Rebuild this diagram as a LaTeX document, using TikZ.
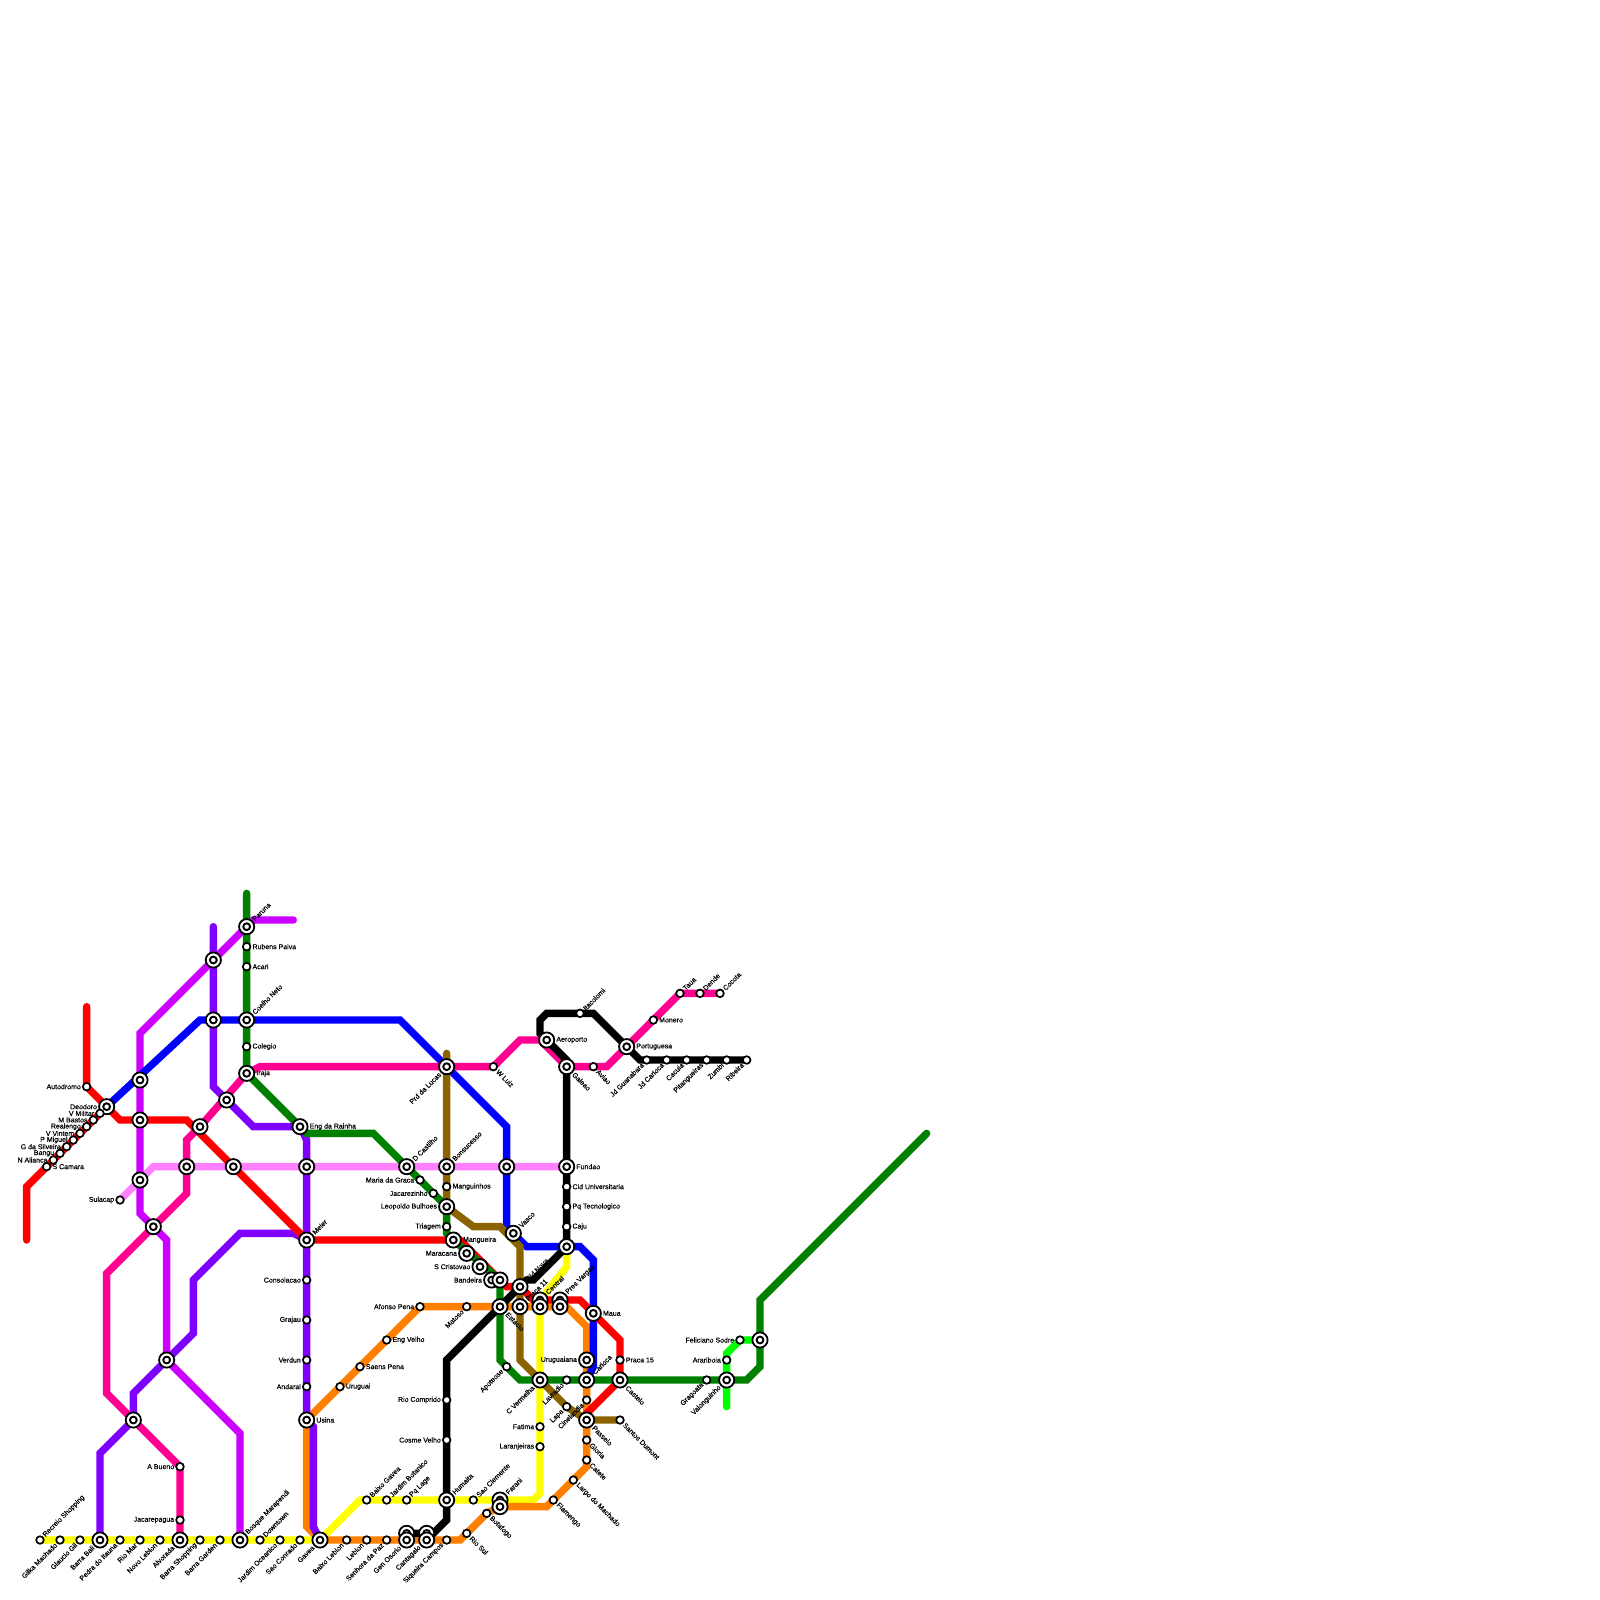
\documentclass[tikz,border=0pt]{standalone}
\usepackage{fontspec}
\setmainfont{Liberation Sans}
\newfontfamily\labfont[FakeBold=0.4]{Liberation Sans}
\usepackage{xcolor}
\definecolor{cGreen}{HTML}{008000}
\definecolor{cLime}{HTML}{00FF00}
\definecolor{cViolet}{HTML}{8000FF}
\definecolor{cMagenta}{HTML}{CC00FF}
\definecolor{cPink}{HTML}{FF0090}
\definecolor{cLilac}{HTML}{FF80FF}
\definecolor{cBlue}{HTML}{0000FF}
\definecolor{cRed}{HTML}{FF0000}
\definecolor{cBrown}{HTML}{8B6400}
\definecolor{cOrange}{HTML}{FF8000}
\definecolor{cYellow}{HTML}{FFFF00}
\usetikzlibrary{backgrounds}
\tikzset{
  stn/.style={circle,draw=black,line width=1.7pt,fill=white,minimum size=7.6pt,inner sep=0pt},
  hub/.style={circle,draw=black,line width=1.8pt,fill=white,minimum size=15.2pt,inner sep=0pt,
    path picture={\draw[black,line width=1.9pt] (path picture bounding box.center) circle (3.4pt);}},
  lab/.style={font=\labfont\fontsize{7}{8}\selectfont,inner sep=1pt,text=black},
  at-e/.style={label={[lab,anchor=west]0:#1}},
  at-w/.style={label={[lab,anchor=east]180:#1}},
  at-ne/.style={label={[lab,rotate=45,anchor=west]45:#1}},
  at-se/.style={label={[lab,rotate=-45,anchor=west]-45:#1}},
  at-sw/.style={label={[lab,rotate=45,anchor=east]225:#1}},
  line/.style={line width=7.4pt,line cap=round,draw=#1},
}
\begin{document}
\begin{tikzpicture}[x=6.6667pt,y=-6.6667pt]
  \useasboundingbox (0,0) rectangle (240,240);
  % free ends
  \coordinate (green-top) at (37,134);
  \coordinate (green-end) at (139,170);
  \coordinate (violet-top) at (32,139);
  \coordinate (magenta-end) at (44,138);
  \coordinate (red-top) at (13,151);
  \coordinate (red-bot) at (4,186);
  \coordinate (brown-top) at (67,158);
  \coordinate (lime-end) at (109,211);
  % north west
  \node[hub,at-ne=Paruna] (paruna) at (37,139) {};
  \node[stn,at-e=Rubens Paiva] (rubens) at (37,142) {};
  \node[stn,at-e=Acari] (acari) at (37,145) {};
  \node[hub,at-ne=Coelho Neto] (coelho) at (37,153) {};
  \node[stn,at-e=Colegio] (colegio) at (37,157) {};
  \node[hub,at-e=Iraja] (iraja) at (37,161) {};
  \node[hub] (hubA) at (32,144) {};
  \node[hub] (hubB) at (32,153) {};
  \node[hub] (hubC) at (21,162) {};
  \node[hub] (hubD) at (21,168) {};
  \node[hub] (hubE) at (21,177) {};
  \node[hub] (hubF) at (34,165) {};
  \node[hub] (hubG) at (30,169) {};
  \node[hub] (hubH) at (28,175) {};
  \node[hub] (hubI) at (35,175) {};
  \node[hub] (hubJ) at (23,184) {};
  \node[hub] (hubK) at (25,204) {};
  \node[hub] (hubL) at (20,213) {};
  \node[hub] (hubM) at (46,175) {};
  \node[hub] (hubN) at (76,175) {};
  \node[stn,at-w=Sulacap] (sulacap) at (18,180) {};
  \node[stn,at-w=Autodromo] (autodromo) at (13,163) {};
  \node[hub,at-w=Deodoro] (deodoro) at (16,166) {};
  \node[stn,at-w=V Militar] (vmilitar) at (15,167) {};
  \node[stn,at-w=M Bastos] (mbastos) at (14,168) {};
  \node[stn,at-w=Realengo] (realengo) at (13,169) {};
  \node[stn,at-w=V Vintem] (vvintem) at (12,170) {};
  \node[stn,at-w=P Miguel] (pmiguel) at (11,171) {};
  \node[stn,at-w=G da Silveira] (gsilveira) at (10,172) {};
  \node[stn,at-w=Bangu] (bangu) at (9,173) {};
  \node[stn,at-w=N Alianca] (nalianca) at (8,174) {};
  \node[stn,at-e=S Camara] (scamara) at (7,175) {};
  \node[stn,at-w=A Bueno] (abueno) at (27,220) {};
  \node[stn,at-w=Jacarepagua] (jacarepagua) at (27,228) {};
  % barra
  \node[stn,at-ne=Recreio Shopping] (recreio) at (6,231) {};
  \node[stn,at-sw=Gilka Machado] (gilka) at (9,231) {};
  \node[stn,at-sw=Glaucio Gil] (glaucio) at (12,231) {};
  \node[hub,at-sw=Barra Bali] (bali) at (15,231) {};
  \node[stn,at-sw=Pedra do Itauna] (itauna) at (18,231) {};
  \node[stn,at-sw=Rio Mar] (riomar) at (21,231) {};
  \node[stn,at-sw=Novo Leblon] (novoleblon) at (24,231) {};
  \node[hub,at-sw=Alvorada] (alvorada) at (27,231) {};
  \node[stn,at-sw=Barra Shopping] (barrashop) at (30,231) {};
  \node[stn,at-sw=Barra Garden] (barragarden) at (33,231) {};
  \node[hub,at-ne=Bosque Marapendi] (bosque) at (36,231) {};
  \node[stn,at-ne=Downtown] (downtown) at (39,231) {};
  \node[stn,at-sw=Jardim Oceanico] (oceanico) at (42,231) {};
  \node[stn,at-sw=Sao Conrado] (conrado) at (45,231) {};
  \node[hub,at-sw=Gavea] (gavea) at (48,231) {};
  \node[stn,at-sw=Baixo Leblon] (baixoleblon) at (52,231) {};
  \node[stn,at-sw=Leblon] (leblon) at (55,231) {};
  \node[stn,at-sw=Senhora da Paz] (senhora) at (58,231) {};
  \node[hub] (osoriotop) at (61,230) {};
  \node[hub,at-sw=Gen Osorio] (osorio) at (61,231) {};
  \node[hub] (cantagalotop) at (64,230) {};
  \node[hub,at-sw=Cantagalo] (cantagalo) at (64,231) {};
  \node[stn,at-sw=Siqueira Campos] (siqueira) at (67,231) {};
  \node[stn,at-se=Rio Sul] (riosul) at (70,230) {};
  \node[stn,at-se=Botafogo] (botafogo) at (73,227) {};
  \node[hub,at-ne=Farani] (farani) at (75,225) {};
  \node[hub] (faranilow) at (75,226) {};
  \node[stn,at-ne=Baixo Gavea] (baixogavea) at (55,225) {};
  \node[stn,at-ne=Jardim Botanico] (botanico) at (58,225) {};
  \node[stn,at-ne=Pq Lage] (pqlage) at (61,225) {};
  \node[hub,at-ne=Humaita] (humaita) at (67,225) {};
  \node[stn,at-ne=Sao Clemente] (clemente) at (71,225) {};
  \node[stn,at-w=Rio Comprido] (comprido) at (67,210) {};
  \node[stn,at-w=Cosme Velho] (cosme) at (67,216) {};
  % tijuca
  \node[hub,at-ne=Meier] (meier) at (46,186) {};
  \node[stn,at-w=Consolacao] (consolacao) at (46,192) {};
  \node[stn,at-w=Grajau] (grajau) at (46,198) {};
  \node[stn,at-w=Verdun] (verdun) at (46,204) {};
  \node[stn,at-w=Andarai] (andarai) at (46,208) {};
  \node[hub,at-e=Usina] (usina) at (46,213) {};
  \node[stn,at-e=Uruguai] (uruguai) at (51,208) {};
  \node[stn,at-e=Saens Pena] (saens) at (54,205) {};
  \node[stn,at-e=Eng Velho] (engvelho) at (58,201) {};
  \node[stn,at-w=Afonso Pena] (afonso) at (63,196) {};
  \node[stn,at-sw=Matoso] (matoso) at (70,196) {};
  \node[hub,at-e=Eng da Rainha] (rainha) at (45,169) {};
  \node[hub,at-ne=D Castilho] (castilho) at (61,175) {};
  \node[stn,at-w=Maria da Graca] (maria) at (63,177) {};
  \node[stn,at-w=Jacarezinho] (jacarezinho) at (65,179) {};
  \node[hub,at-sw=Prd da Lucas] (lucas) at (67,160) {};
  \node[stn,at-se=W Luiz] (wluiz) at (74,160) {};
  \node[hub,at-ne=Bonsucesso] (bonsucesso) at (67,175) {};
  \node[stn,at-e=Manguinhos] (manguinhos) at (67,178) {};
  \node[hub,at-w=Leopoldo Bulhoes] (leopoldo) at (67,181) {};
  \node[stn,at-w=Triagem] (triagem) at (67,184) {};
  \node[hub,at-e=Mangueira] (mangueira) at (68,186) {};
  \node[hub,at-w=Maracana] (maracana) at (70,188) {};
  \node[hub,at-w=S Cristovao] (cristovao) at (72,190) {};
  \node[hub,at-w=Bandeira] (bandeira) at (73.75,192) {};
  \node[hub] (bandeiraright) at (75,192) {};
  \node[hub,at-ne=Vasco] (vasco) at (77,185) {};
  % centro
  \node[hub,at-ne=Cid Nova] (cidnova) at (78,193) {};
  \node[hub,at-se=Estacio] (estacio) at (75,196) {};
  \node[hub,at-ne=Central] (centraltop) at (81,195) {};
  \node[hub] (central) at (81,196) {};
  \node[hub,at-ne=Pres Vargas] (vargastop) at (84,195) {};
  \node[hub] (vargas) at (84,196) {};
  \node[hub,at-ne=Praca 11] (praca) at (78,196) {};
  \node[hub,at-e=Maua] (maua) at (89,197) {};
  \node[stn,at-sw=Apoteose] (apoteose) at (76,205) {};
  \node[hub,at-sw=C Vermelha] (cvermelha) at (81,207) {};
  \node[stn,at-sw=Lavradio] (lavradio) at (85,207) {};
  \node[hub,at-w=Uruguaiana] (uruguaiana) at (88,204) {};
  \node[hub,at-ne=Carioca] (carioca) at (88,207) {};
  \node[stn,at-e=Praca 15] (pracaXV) at (93,204) {};
  \node[hub,at-se=Castelo] (castelo) at (93,207) {};
  \node[stn,at-sw=Cinelandia] (cinelandia) at (88,210) {};
  \node[stn,at-sw=Lapa] (lapa) at (85,211) {};
  \node[hub,at-se=Passeio] (passeio) at (88,213) {};
  \node[stn,at-se=Santos Dumont] (dumont) at (93,213) {};
  \node[stn,at-se=Gloria] (gloria) at (88,216) {};
  \node[stn,at-se=Catete] (catete) at (88,219) {};
  \node[stn,at-se=Largo do Machado] (largo) at (86,222) {};
  \node[stn,at-se=Flamengo] (flamengo) at (83,225) {};
  \node[stn,at-w=Fatima] (fatima) at (81,214) {};
  \node[stn,at-w=Laranjeiras] (laranjeiras) at (81,217) {};
  % ilha
  \node[hub,at-e=Fundao] (fundao) at (85,175) {};
  \node[stn,at-e=Cid Universitaria] (cidadeuni) at (85,178) {};
  \node[stn,at-e=Pq Tecnologico] (pqtec) at (85,181) {};
  \node[stn,at-e=Caju] (caju) at (85,184) {};
  \node[hub] (hubO) at (85,187) {};
  \node[hub,at-e=Aeroporto] (aeroporto) at (82,156) {};
  \node[hub,at-se=Galeao] (galeao) at (85,160) {};
  \node[stn,at-se=Aviao] (aviao) at (89,160) {};
  \node[stn,at-ne=Itacolomi] (itacolomi) at (87,152) {};
  \node[hub,at-e=Portuguesa] (portuguesa) at (94,157) {};
  \node[stn,at-e=Monero] (monero) at (98,153) {};
  \node[stn,at-ne=Taua] (taua) at (102,149) {};
  \node[stn,at-ne=Dende] (dende) at (105,149) {};
  \node[stn,at-ne=Cocota] (cocota) at (108,149) {};
  \node[stn,at-sw=Jd Guanabara] (guanabara) at (97,159) {};
  \node[stn,at-sw=Jd Carioca] (jdcarioca) at (100,159) {};
  \node[stn,at-sw=Cacuia] (cacuia) at (103,159) {};
  \node[stn,at-sw=Pitangueiras] (pitangueiras) at (106,159) {};
  \node[stn,at-sw=Zumbi] (zumbi) at (109,159) {};
  \node[stn,at-sw=Ribeira] (ribeira) at (112,159) {};
  % niteroi
  \node[stn,at-sw=Gragoata] (gragoata) at (106,207) {};
  \node[hub,at-sw=Valonguinho] (valonguinho) at (109,207) {};
  \node[stn,at-w=Arariboia] (arariboia) at (109,204) {};
  \node[stn,at-w=Feliciano Sodre] (sodre) at (111,201) {};
  \node[hub] (hubP) at (114,201) {};
  \begin{scope}[on background layer]
    \draw[line=cLilac] (sulacap.center) -- (23,175) -- (hubH.center) -- (hubI.center) -- (hubM.center)
      -- (castilho.center) -- (bonsucesso.center) -- (hubN.center) -- (fundao.center);
    \draw[line=cYellow] (recreio.center) -- (gavea.center) -- (54,225) -- (baixogavea.center)
      -- (humaita.center) -- (farani.center) -- (80,225) -- (81,224) -- (laranjeiras.center)
      -- (fatima.center) -- (cvermelha.center) -- (central.center) -- (centraltop.center)
      -- (85,190) -- (hubO.center);
    \draw[line=cLime] (lime-end) -- (valonguinho.center) -- (arariboia.center) -- (109,203)
      -- (sodre.center) -- (hubP.center);
    \draw[line=cOrange] (usina.center) -- (uruguai.center) -- (saens.center) -- (engvelho.center)
      -- (afonso.center) -- (matoso.center) -- (estacio.center) -- (praca.center) -- (central.center)
      -- (vargas.center) -- (85,196) -- (88,199) -- (uruguaiana.center) -- (carioca.center)
      -- (cinelandia.center) -- (passeio.center) -- (gloria.center) -- (catete.center) -- (88,220)
      -- (largo.center) -- (flamengo.center) -- (82,226) -- (faranilow.center) -- (botafogo.center)
      -- (riosul.center) -- (69,231) -- (siqueira.center) -- (cantagalo.center) -- (osorio.center)
      -- (senhora.center) -- (leblon.center) -- (baixoleblon.center) -- (gavea.center) -- (46,229)
      -- cycle;
    \draw[line=cMagenta] (magenta-end) -- (38,138) -- (paruna.center) -- (hubA.center) -- (21,155)
      -- (hubC.center) -- (hubD.center) -- (hubE.center) -- (21,182) -- (hubJ.center) -- (25,186)
      -- (hubK.center) -- (36,215) -- (bosque.center);
    \draw[line=cViolet] (violet-top) -- (hubA.center) -- (hubB.center) -- (32,163) -- (hubF.center)
      -- (38,169) -- (rainha.center) -- (46,171) -- (hubM.center) -- (meier.center)
      -- (consolacao.center) -- (grajau.center) -- (verdun.center) -- (andarai.center)
      -- (usina.center) -- (47,214) -- (47,229) -- (gavea.center);
    \draw[line=cViolet] (meier.center) -- (44,185) -- (36,185) -- (29,192) -- (29,200)
      -- (hubK.center) -- (20,209) -- (hubL.center) -- (15,218) -- (bali.center);
    \draw[line=cBlue] (deodoro.center) -- (30,153) -- (hubB.center) -- (coelho.center) -- (60,153)
      -- (lucas.center) -- (76,169) -- (hubN.center) -- (76,184) -- (vasco.center) -- (79,187)
      -- (hubO.center) -- (87,187) -- (89,189) -- (maua.center) -- (89,205) -- (carioca.center);
    \draw[line=cBrown] (brown-top) -- (lucas.center) -- (bonsucesso.center) -- (manguinhos.center)
      -- (leopoldo.center) -- (71,184) -- (75,184) -- (78,187) -- (cidnova.center) -- (praca.center)
      -- (78,204) -- (cvermelha.center) -- (lapa.center) -- (passeio.center) -- (dumont.center);
    \draw[line=cRed] (red-top) -- (autodromo.center) -- (deodoro.center) -- (18,168) -- (hubD.center)
      -- (28,168) -- (hubI.center) -- (meier.center) -- (69,186) -- (75,192) -- (76,193)
      -- (cidnova.center) -- (80,195) -- (87,195) -- (93,201) -- (pracaXV.center) -- (castelo.center)
      -- (88,212) -- (passeio.center);
    \draw[line=cRed] (red-bot) -- (4,178) -- (scamara.center) -- (deodoro.center);
    \draw[line=cGreen] (green-top) -- (paruna.center) -- (coelho.center) -- (iraja.center) -- (45,169)
      -- (46,170) -- (56,170) -- (castilho.center) -- (leopoldo.center) -- (67,185) -- (mangueira.center)
      -- (bandeiraright.center) -- (75,193) -- (estacio.center) -- (75,204) -- (78,207)
      -- (cvermelha.center) -- (castelo.center) -- (valonguinho.center) -- (112,207) -- (114,205)
      -- (hubP.center) -- (114,195) -- (green-end);
    \draw[line=cPink] (alvorada.center) -- (abueno.center) -- (hubL.center) -- (16,209) -- (16,191)
      -- (hubJ.center) -- (28,179) -- (28,171) -- (hubG.center) -- (iraja.center) -- (39,160)
      -- (lucas.center) -- (wluiz.center) -- (78,156) -- (81,156) -- (galeao.center)
      -- (91,160) -- (portuguesa.center) -- (taua.center) -- (cocota.center);
    \draw[line=black] (hubO.center) -- (galeao.center) -- (85,159) -- (aeroporto.center) -- (81,155) -- (81,153)
      -- (82,152) -- (89,152) -- (portuguesa.center) -- (96,159) -- (ribeira.center);
    \draw[line=black] (hubO.center) -- (80,192) -- (79,192) -- (cidnova.center) -- (estacio.center)
      -- (67,204) -- (humaita.center) -- (67,228) -- (65,230) -- (osoriotop.center);
  \end{scope}
\end{tikzpicture}
\end{document}
